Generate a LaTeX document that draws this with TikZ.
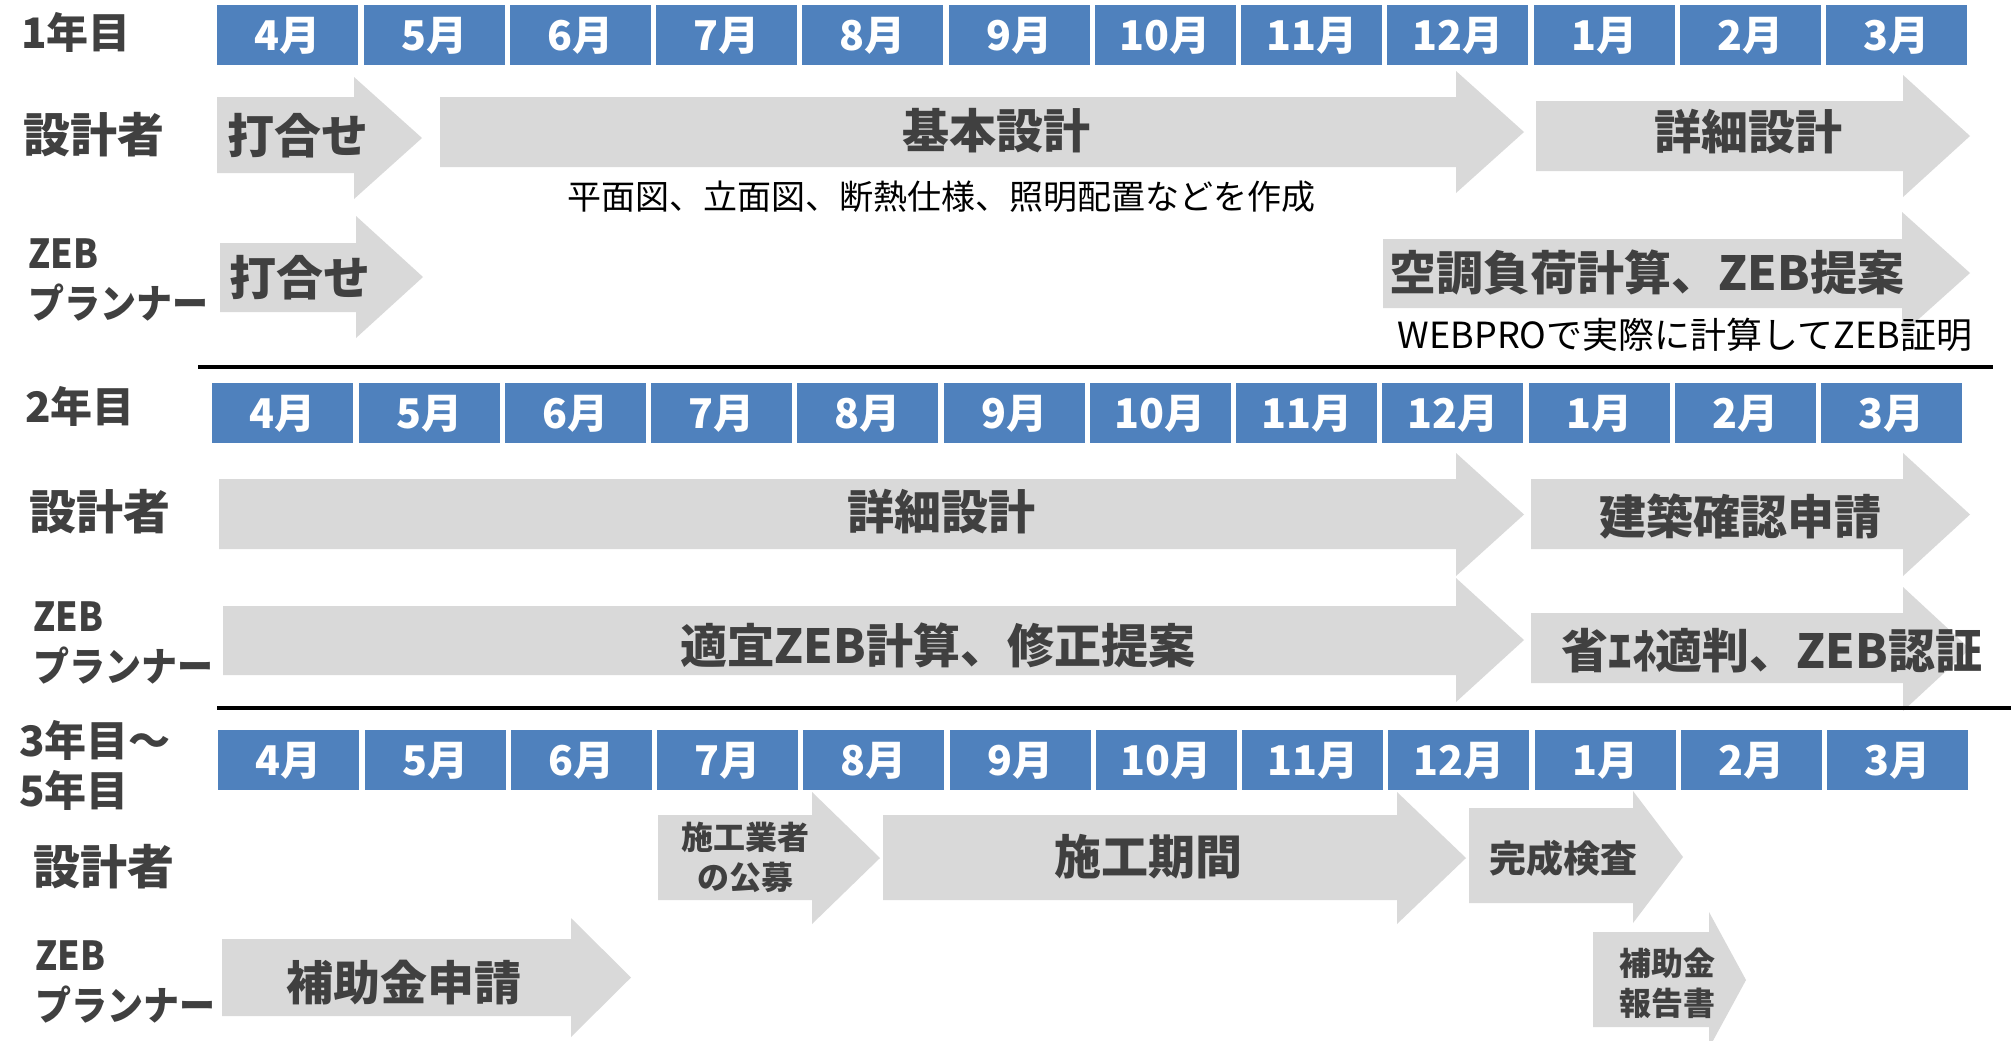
\documentclass[tikz,border=0pt]{standalone}
\usepackage{fontspec}
\setmainfont{Noto Sans CJK JP}
\newfontfamily\jpn[FakeStretch=0.9]{Noto Sans CJK JP}
\definecolor{mblue}{HTML}{4F81BD}
\definecolor{agray}{HTML}{D9D9D9}
\definecolor{tgray}{HTML}{404040}
\newcommand\garrow[7]{%
  \fill[agray] (#1,#2) -- (#4,#2) -- (#4,#5) -- (#7,{(#5+#6)/2}) -- (#4,#6) -- (#4,#3) -- (#1,#3) -- cycle;}
\tikzset{
  month/.style={fill=mblue, minimum width=70.5pt, minimum height=30pt, inner sep=0pt,
    text=white, font=\fontsize{20.5}{22}\selectfont\bfseries, anchor=north west},
  bigtxt/.style={text=tgray, font=\fontsize{23.5}{26}\selectfont\bfseries, inner sep=0pt},
  midtxt/.style={text=tgray, font=\fontsize{18.5}{22}\selectfont\bfseries, inner sep=0pt},
  smalltxt/.style={text=tgray, font=\fontsize{16}{20}\selectfont\bfseries, inner sep=0pt, align=center},
  rowlab/.style={text=tgray, font=\fontsize{23.5}{26}\selectfont\bfseries, inner sep=0pt, anchor=west},
  yearlab/.style={text=tgray, font=\fontsize{21}{25}\selectfont\bfseries, inner sep=0pt, anchor=west, align=left},
  zeblab/.style={text=tgray, font=\jpn\fontsize{20}{25}\selectfont\bfseries, inner sep=0pt, anchor=west, align=left},
  notetxt/.style={text=black, font=\fontsize{17}{20}\selectfont, inner sep=0pt},
  sepline/.style={line width=2pt, black}
}
\begin{document}
\begin{tikzpicture}[x=0.5pt,y=-0.5pt]
\useasboundingbox[fill=white] (0,0) rectangle (2011,1040);

% ---------------- month bars
\foreach \m [count=\i from 0] in {4,5,6,7,8,9,10,11,12,1,2,3} {
  \node[month] (ma\i) at ({217+146.25*\i},5) {{\m}月};
  \node[month] (mb\i) at ({212+146.25*\i},383) {{\m}月};
  \node[month] (mc\i) at ({218+146.25*\i},730) {{\m}月};
}

% ---------------- year 1
\node[yearlab] (y1) at (21,32) {1年目};
\node[rowlab] (d1) at (23,135) {設計者};
\node[zeblab] (z1) at (28,280) {ZEB\\プランナー};

\garrow{217}{97}{173}{354}{77}{199}{422}
\garrow{440}{97}{167}{1456}{71}{193}{1524}
\garrow{1536}{101}{171}{1903}{75}{197}{1970}
\garrow{220}{243}{312}{356}{216}{338}{423}
\garrow{1383}{239}{308}{1902}{212}{334}{1970}

\node[bigtxt] (t11) at (298,136) {打合せ};
\node[bigtxt] (t12) at (996,131) {基本設計};
\node[bigtxt] (t13) at (1748,132) {詳細設計};
\node[bigtxt] (t14) at (300,278) {打合せ};
\node[bigtxt] (t15) at (1647,273) {空調負荷計算、ZEB提案};
\node[notetxt] (n11) at (941,197) {平面図、立面図、断熱仕様、照明配置などを作成};
\node[notetxt, font=\fontsize{18}{20}\selectfont] (n12) at (1685,335) {WEBPROで実際に計算してZEB証明};

\coordinate (s1a) at (198,367);
\coordinate (s1b) at (1993,367);
\draw[sepline] (s1a) -- (s1b);

% ---------------- year 2
\node[yearlab] (y2) at (25,406) {2年目};
\node[rowlab] (d2) at (29,512) {設計者};
\node[zeblab] (z2) at (33,643) {ZEB\\プランナー};

\garrow{219}{479}{549}{1456}{453}{576}{1524}
\garrow{1531}{479}{549}{1903}{453}{576}{1970}
\garrow{223}{606}{675}{1456}{578}{702}{1524}
\garrow{1531}{613}{683}{1903}{587}{711}{1970}

\node[bigtxt] (t21) at (941,512) {詳細設計};
\node[bigtxt] (t22) at (1740,517) {建築確認申請};
\node[bigtxt] (t23) at (938,645) {適宜ZEB計算、修正提案};
\node[bigtxt] (t24) at (1772,651) {省ｴﾈ適判、ZEB認証};

\coordinate (s2a) at (217,708);
\coordinate (s2b) at (2011,708);
\draw[sepline] (s2a) -- (s2b);

% ---------------- year 3-5
\node[yearlab] (y3) at (19,765) {3年目～\\5年目};
\node[rowlab] (d3) at (33,867) {設計者};
\node[zeblab] (z3) at (35,982) {ZEB\\プランナー};

\garrow{658}{815}{900}{812}{792}{924}{880}
\garrow{883}{815}{900}{1397}{792}{924}{1466}
\garrow{1469}{808}{903}{1633}{791}{923}{1683}
\garrow{222}{939}{1016}{571}{918}{1037}{631}
\garrow{1593}{932}{1027}{1709}{912}{1048}{1746}

\node[smalltxt] (t31) at (745,857) {施工業者\\の公募};
\node[bigtxt] (t32) at (1148,857) {施工期間};
\node[midtxt] (t33) at (1563,858) {完成検査};
\node[bigtxt] (t34) at (404,983) {補助金申請};
\node[smalltxt] (t35) at (1667,983) {補助金\\報告書};
\end{tikzpicture}
\end{document}
